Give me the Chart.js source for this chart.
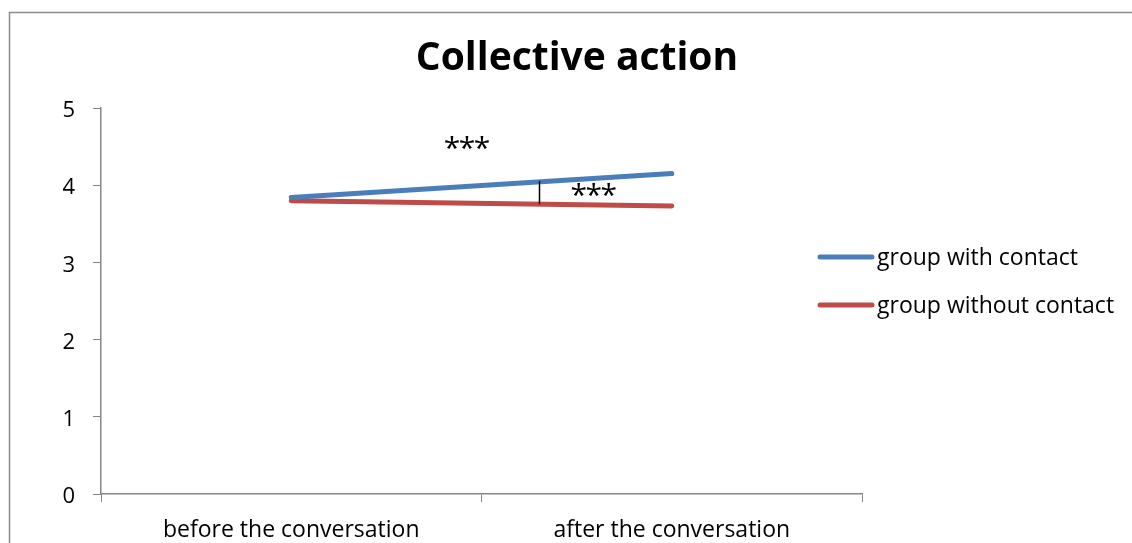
<!DOCTYPE html>
<html>
<head>
<meta charset="utf-8">
<script src="https://cdn.jsdelivr.net/npm/chart.js@4.4.1/dist/chart.umd.min.js"></script>
<style>
  html, body { margin: 0; padding: 0; background: #ffffff; }
  #wrap { width: 1132px; height: 543px; position: relative; }
</style>
</head>
<body>
<div id="wrap"><canvas id="chart" width="1132" height="543"></canvas></div>
<script>
// Survey means on a 0–5 scale, before and after the conversation
const categories = ['before the conversation', 'after the conversation'];
const withContact = [3.84, 4.15];
const withoutContact = [3.80, 3.73];
const yTicks = [0, 1, 2, 3, 4, 5];
const seriesNames = ['group with contact', 'group without contact'];
const chartTitle = 'Collective action';
const sigMark = '*';

const FONT = '"Open Sans", Lato, "Noto Sans", sans-serif';
const AXIS_GREY = '#868686';
const BLUE = '#4a7ebb';
const RED = '#be4b48';

// Outer frame, title, significance marks and the right-hand legend
const decorations = {
  id: 'decorations',
  beforeDraw(chart) {
    const ctx = chart.ctx;
    ctx.save();
    ctx.strokeStyle = '#8c8c8c';
    ctx.lineWidth = 1.5;
    ctx.strokeRect(9.5, 12.5, 1200, 600);
    ctx.restore();
  },
  afterDraw(chart) {
    const ctx = chart.ctx;
    const x = chart.scales.x, y = chart.scales.y;
    const blue = chart.data.datasets[0].data;
    const red = chart.data.datasets[1].data;
    const lerp = (arr, t) => arr[0] + (arr[1] - arr[0]) * t;

    ctx.save();
    // title
    ctx.fillStyle = '#000000';
    ctx.font = 'bold 39px ' + FONT;
    ctx.textAlign = 'center';
    ctx.textBaseline = 'alphabetic';
    ctx.fillText(chartTitle, 577, 70);

    // bracket between the two groups after the conversation
    const t = 0.65;
    const bx = Math.round(x.getPixelForValue(t)) + 0.5;
    ctx.strokeStyle = '#000000';
    ctx.lineWidth = 1.5;
    ctx.beginPath();
    ctx.moveTo(bx, y.getPixelForValue(lerp(blue, t)) - 1);
    ctx.lineTo(bx, y.getPixelForValue(lerp(red, t)));
    ctx.stroke();

    // significance stars, three marks per comparison
    ctx.font = '30px ' + FONT;
    ctx.textAlign = 'center';
    ctx.textBaseline = 'alphabetic';
    const stars = (cx, cy) => {
      for (let k = -1; k <= 1; k++) ctx.fillText(sigMark, cx + k * 15, cy + 15);
    };
    stars(x.getPixelForValue(0.462), y.getPixelForValue(4.55));
    stars(x.getPixelForValue(0.795), y.getPixelForValue(3.94));

    // legend
    const lx = 820, lw = 52;
    const rows = [257, 305];
    chart.data.datasets.forEach((ds, i) => {
      const ly = rows[i];
      ctx.strokeStyle = ds.borderColor;
      ctx.lineWidth = 5;
      ctx.lineCap = 'round';
      ctx.beginPath();
      ctx.moveTo(lx, ly);
      ctx.lineTo(lx + lw, ly);
      ctx.stroke();
      ctx.fillStyle = '#000000';
      ctx.font = '23px ' + FONT;
      ctx.textAlign = 'left';
      ctx.textBaseline = 'middle';
      ctx.fillText(ds.label, 877, ly + 1);
    });
    ctx.restore();
  }
};

new Chart(document.getElementById('chart'), {
  type: 'line',
  data: {
    labels: categories,
    datasets: [
      { label: seriesNames[0], data: withContact, borderColor: BLUE, backgroundColor: BLUE,
        borderWidth: 5, borderCapStyle: 'round', pointRadius: 0, tension: 0 },
      { label: seriesNames[1], data: withoutContact, borderColor: RED, backgroundColor: RED,
        borderWidth: 5, borderCapStyle: 'round', pointRadius: 0, tension: 0 }
    ]
  },
  options: {
    responsive: false,
    animation: false,
    layout: { padding: { left: 22, right: 270, top: 108, bottom: 0 } },
    plugins: {
      legend: { display: false },
      tooltip: { enabled: false },
      title: { display: false }
    },
    scales: {
      x: {
        type: 'category',
        offset: true,
        grid: { display: true, drawOnChartArea: false, drawTicks: true, tickLength: 8,
                tickColor: AXIS_GREY, offset: true },
        border: { display: true, color: AXIS_GREY, width: 1.5 },
        ticks: { color: '#000000', font: { family: FONT, size: 23 }, padding: 15, maxRotation: 0 },
        afterFit(scale) { scale.height = 49; }
      },
      y: {
        min: 0,
        max: 5,
        afterBuildTicks(scale) { scale.ticks = yTicks.map(v => ({ value: v })); },
        grid: { display: true, drawOnChartArea: false, drawTicks: true, tickLength: 8,
                tickColor: AXIS_GREY },
        border: { display: true, color: AXIS_GREY, width: 1.5 },
        ticks: { color: '#000000', font: { family: FONT, size: 22 }, padding: 18, labelOffset: 3 },
        afterFit(scale) { scale.width = 79; }
      }
    }
  },
  plugins: [decorations]
});
</script>
</body>
</html>
